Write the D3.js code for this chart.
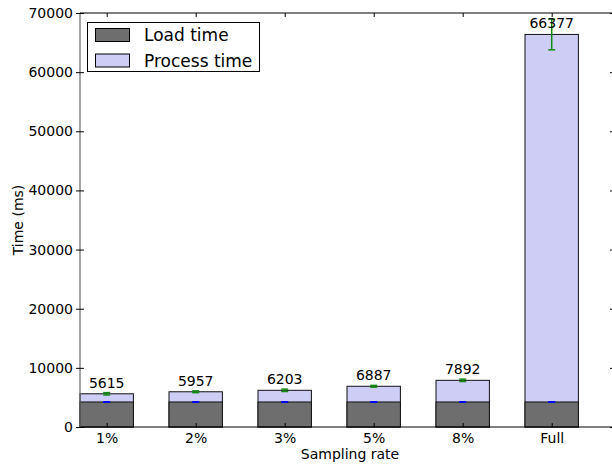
<!DOCTYPE html>
<html>
<head>
<meta charset="utf-8">
<script src="https://cdn.jsdelivr.net/npm/d3@7"></script>
<style>
  body { margin: 0; background: #fff; }
  text { font-family: "DejaVu Sans", sans-serif; }
</style>
</head>
<body>
<div id="graph"></div>
<script>
var categories = ["1%", "2%", "3%", "5%", "8%", "Full"];
var loadTime = [4230, 4230, 4230, 4230, 4230, 4230];
var loadErr = [25, 25, 25, 25, 25, 25];
var totalTime = [5615, 5957, 6203, 6887, 7892, 66377];
var totalErr = [200, 150, 200, 150, 200, 2600];
var yTicks = [0, 10000, 20000, 30000, 40000, 50000, 60000, 70000];

var W = 612, H = 465;
var mLeft = 80, mRight = 614, mTop = 13, mBottom = 427;

var svg = d3.select("#graph").append("svg")
  .attr("width", W).attr("height", H);

// bars sit at integer positions, width 0.6
var x = d3.scaleLinear().domain([-0.3, 5.7]).range([mLeft, mRight]);
var y = d3.scaleLinear().domain([0, 70000]).range([mBottom, mTop]);
var bw = x(0.6) - x(0);

var g = svg.append("g");

// process (total) bars behind, load bars in front
g.selectAll("rect.total").data(totalTime).enter().append("rect")
  .attr("class", "total")
  .attr("x", function(d, i) { return x(i - 0.3); })
  .attr("y", function(d) { return y(d); })
  .attr("width", bw)
  .attr("height", function(d) { return y(0) - y(d); })
  .attr("fill", "#cdcdf5")
  .attr("stroke", "#111").attr("stroke-width", 1);

g.selectAll("rect.load").data(loadTime).enter().append("rect")
  .attr("class", "load")
  .attr("x", function(d, i) { return x(i - 0.3); })
  .attr("y", function(d) { return y(d); })
  .attr("width", bw)
  .attr("height", function(d) { return y(0) - y(d); })
  .attr("fill", "#6e6e6e")
  .attr("stroke", "#111").attr("stroke-width", 1);

function errorBars(vals, errs, color) {
  var eb = g.append("g");
  vals.forEach(function(v, i) {
    var cx = x(i), cap = 3.5;
    eb.append("line").attr("x1", cx).attr("x2", cx)
      .attr("y1", y(v - errs[i])).attr("y2", y(v + errs[i]))
      .attr("stroke", color).attr("stroke-width", 1.5);
    [v - errs[i], v + errs[i]].forEach(function(e) {
      eb.append("line").attr("x1", cx - cap).attr("x2", cx + cap)
        .attr("y1", y(e)).attr("y2", y(e))
        .attr("stroke", color).attr("stroke-width", 1.5);
    });
  });
}
errorBars(loadTime, loadErr, "#0000ff");
errorBars(totalTime, totalErr, "#138a13");

// value labels
g.selectAll("text.val").data(totalTime).enter().append("text")
  .attr("x", function(d, i) { return x(i); })
  .attr("y", function(d) { return y(d) - 6; })
  .attr("text-anchor", "middle")
  .attr("font-size", 14)
  .attr("fill", "#000")
  .text(function(d) { return d; });

// axes frame
svg.append("line").attr("x1", mLeft).attr("x2", mRight).attr("y1", mTop).attr("y2", mTop)
  .attr("stroke", "#000").attr("stroke-width", 1.2);
svg.append("line").attr("x1", mLeft).attr("x2", mRight).attr("y1", mBottom).attr("y2", mBottom)
  .attr("stroke", "#000").attr("stroke-width", 1.2);
svg.append("line").attr("x1", mLeft).attr("x2", mLeft).attr("y1", mTop).attr("y2", mBottom)
  .attr("stroke", "#666").attr("stroke-width", 1.2);
svg.append("line").attr("x1", mRight).attr("x2", mRight).attr("y1", mTop).attr("y2", mBottom)
  .attr("stroke", "#666").attr("stroke-width", 1.2);

// y axis
var yAxis = d3.axisLeft(y).tickValues(yTicks).tickSize(4).tickPadding(3)
  .tickFormat(d3.format("d"));
var ya = svg.append("g").attr("transform", "translate(" + mLeft + ",0)").call(yAxis);
ya.select(".domain").remove();
ya.attr("font-size", 14).attr("font-family", "DejaVu Sans");
ya.selectAll("text").attr("fill", "#000");
ya.selectAll(".tick line").attr("stroke", "#000").attr("x2", -4).attr("x1", 4);

// right side ticks pointing in
var yr = svg.append("g").attr("transform", "translate(" + mRight + ",0)")
  .call(d3.axisRight(y).tickValues(yTicks).tickSize(-4).tickFormat(""));
yr.select(".domain").remove();
yr.selectAll(".tick line").attr("stroke", "#000");

// x axis
var xAxis = d3.axisBottom(x).tickValues(d3.range(categories.length))
  .tickSize(-4).tickPadding(6)
  .tickFormat(function(i) { return categories[i]; });
var xa = svg.append("g").attr("transform", "translate(0," + mBottom + ")").call(xAxis);
xa.select(".domain").remove();
xa.attr("font-size", 14).attr("font-family", "DejaVu Sans");
xa.selectAll("text").attr("fill", "#000");
xa.selectAll(".tick line").attr("stroke", "#000");

var xt = svg.append("g").attr("transform", "translate(0," + mTop + ")")
  .call(d3.axisTop(x).tickValues(d3.range(categories.length)).tickSize(-4).tickFormat(""));
xt.select(".domain").remove();
xt.selectAll(".tick line").attr("stroke", "#000");

// axis labels
svg.append("text").attr("x", (mLeft + mRight) / 2 + 3).attr("y", 459)
  .attr("text-anchor", "middle").attr("font-size", 14).text("Sampling rate");
svg.append("text")
  .attr("transform", "translate(23," + ((mTop + mBottom) / 2) + ") rotate(-90)")
  .attr("text-anchor", "middle").attr("font-size", 14).text("Time (ms)");

// legend
var legend = svg.append("g");
legend.append("rect").attr("x", 87.5).attr("y", 22.5).attr("width", 172).attr("height", 49)
  .attr("fill", "#fff").attr("stroke", "#000").attr("stroke-width", 1);
var legendItems = [["Load time", "#6e6e6e"], ["Process time", "#cdcdf5"]];
legendItems.forEach(function(it, i) {
  legend.append("rect").attr("x", 95.5).attr("y", 28.5 + i * 25.5)
    .attr("width", 34).attr("height", 13)
    .attr("fill", it[1]).attr("stroke", "#000").attr("stroke-width", 1);
  legend.append("text").attr("x", 144).attr("y", 41 + i * 25.5)
    .attr("font-size", 17).text(it[0]);
});
</script>
</body>
</html>
